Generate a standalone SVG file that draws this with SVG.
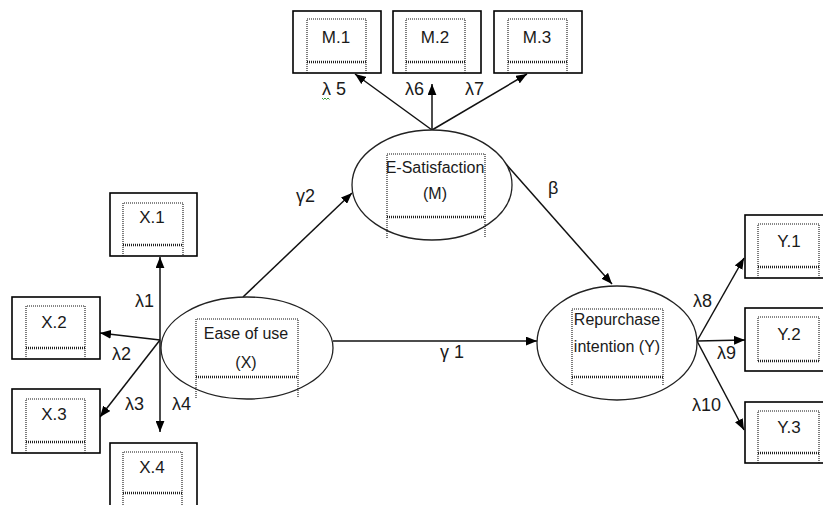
<svg xmlns="http://www.w3.org/2000/svg" width="823" height="505" viewBox="0 0 823 505">
<defs>
<marker id="arr" viewBox="0 0 10 8" refX="10" refY="4" markerWidth="11" markerHeight="9" markerUnits="userSpaceOnUse" orient="auto">
<path d="M0,0 L10,4 L0,8 z" fill="#000"/>
</marker>
<style>
.box{fill:#fff;stroke:#000;stroke-width:1.6}
.ell{fill:#fff;stroke:#222;stroke-width:1.3}
.dot{fill:none;stroke:#111;stroke-width:1.1;stroke-dasharray:1 1}
.wav{fill:none;stroke:#222;stroke-width:2.4;stroke-dasharray:1 1}
.bl{font-family:"Liberation Sans",Arial,sans-serif;font-size:17px;fill:#1a1a1a;text-anchor:middle}
.el{font-family:"Liberation Sans",Arial,sans-serif;font-size:16px;fill:#1a1a1a;text-anchor:middle}
.lb{font-family:"Liberation Sans",Arial,sans-serif;font-size:18px;fill:#1a1a1a}
.con{fill:none;stroke:#111;stroke-width:1.5;marker-end:url(#arr)}
</style>
</defs>
<rect width="823" height="505" fill="#fff"/>

<g id="connectors">
<line class="con" x1="432" y1="130" x2="355" y2="74"/>
<line class="con" x1="432" y1="130" x2="432" y2="84"/>
<line class="con" x1="432" y1="130" x2="527" y2="74"/>
<line class="con" x1="243" y1="297" x2="352" y2="193"/>
<line class="con" x1="506" y1="164" x2="612" y2="284"/>
<line class="con" x1="333" y1="341" x2="537" y2="341"/>
<line class="con" x1="160" y1="340" x2="160" y2="257"/>
<line class="con" x1="160" y1="340" x2="100" y2="333"/>
<line class="con" x1="160" y1="340" x2="100" y2="417"/>
<line class="con" x1="160" y1="340" x2="160" y2="432"/>
<line class="con" x1="697" y1="341" x2="744" y2="258"/>
<line class="con" x1="697" y1="341" x2="745" y2="340"/>
<line class="con" x1="697" y1="341" x2="744" y2="430"/>
</g>

<g id="labels">
<text class="lb" x="322" y="95">λ 5</text>
<path d="M322,98 l1.5,1.5 l1.5,-1.5 l1.5,1.5 l1.5,-1.5 l1.5,1.5" fill="none" stroke="#3a9a3a" stroke-width="1"/>
<text class="lb" x="405" y="95">λ6</text>
<text class="lb" x="465" y="95">λ7</text>
<text class="lb" x="296" y="202">γ2</text>
<text class="lb" x="548" y="194">β</text>
<text class="lb" x="135" y="307">λ1</text>
<text class="lb" x="112" y="360">λ2</text>
<text class="lb" x="125" y="410">λ3</text>
<text class="lb" x="172" y="410">λ4</text>
<text class="lb" x="440" y="358">γ 1</text>
<text class="lb" x="693" y="307">λ8</text>
<text class="lb" x="717" y="359">λ9</text>
<text class="lb" x="692" y="411">λ10</text>
</g>

<g id="M1">
<rect class="box" x="293" y="11" width="88" height="62"/>
<path class="dot" d="M307,73 V19 H366 V73"/>
<line class="wav" x1="307" y1="62" x2="366" y2="62"/>
<text class="bl" x="336" y="43">M.1</text>
</g>
<g id="M2">
<rect class="box" x="393" y="11" width="88" height="62"/>
<path class="dot" d="M406,73 V19 H465 V73"/>
<line class="wav" x1="406" y1="62" x2="465" y2="62"/>
<text class="bl" x="435" y="43">M.2</text>
</g>
<g id="M3">
<rect class="box" x="494" y="11" width="88" height="62"/>
<path class="dot" d="M508,73 V19 H567 V73"/>
<line class="wav" x1="508" y1="62" x2="567" y2="62"/>
<text class="bl" x="537" y="43">M.3</text>
</g>

<g id="X1">
<rect class="box" x="110" y="193" width="87" height="63"/>
<path class="dot" d="M123,256 V203 H183 V256"/>
<line class="wav" x1="123" y1="245" x2="183" y2="245"/>
<text class="bl" x="152" y="223">X.1</text>
</g>
<g id="X2">
<rect class="box" x="12" y="297" width="88" height="62"/>
<path class="dot" d="M26,359 V306 H85 V359"/>
<line class="wav" x1="26" y1="348" x2="85" y2="348"/>
<text class="bl" x="54" y="328">X.2</text>
</g>
<g id="X3">
<rect class="box" x="12" y="389" width="88" height="64"/>
<path class="dot" d="M26,453 V399 H85 V453"/>
<line class="wav" x1="26" y1="442" x2="85" y2="442"/>
<text class="bl" x="54" y="420">X.3</text>
</g>
<g id="X4">
<rect class="box" x="110" y="443" width="87" height="70"/>
<path class="dot" d="M123,505 V452 H182 V505"/>
<line class="wav" x1="123" y1="493" x2="182" y2="493"/>
<text class="bl" x="152" y="473">X.4</text>
</g>

<g id="Y1">
<rect class="box" x="745" y="215" width="90" height="63"/>
<path class="dot" d="M758,278 V224 H819 V278"/>
<line class="wav" x1="758" y1="267" x2="819" y2="267"/>
<text class="bl" x="789" y="247">Y.1</text>
</g>
<g id="Y2">
<rect class="box" x="745" y="308" width="90" height="63"/>
<path class="dot" d="M758,361 V317 H819 V361"/>
<line class="wav" x1="758" y1="361" x2="819" y2="361"/>
<text class="bl" x="789" y="340">Y.2</text>
</g>
<g id="Y3">
<rect class="box" x="745" y="402" width="90" height="61"/>
<path class="dot" d="M758,463 V411 H819 V463"/>
<line class="wav" x1="758" y1="453" x2="819" y2="453"/>
<text class="bl" x="789" y="433">Y.3</text>
</g>

<g id="M">
<ellipse class="ell" cx="432" cy="185" rx="80" ry="55"/>
<path class="dot" d="M387,238 V154 H485 V238"/>
<line class="wav" x1="387" y1="217" x2="485" y2="217"/>
<text class="el" x="435" y="173">E-Satisfaction</text>
<text class="el" x="435" y="199">(M)</text>
</g>
<g id="X">
<ellipse class="ell" cx="247" cy="348" rx="86" ry="51"/>
<path class="dot" d="M196,398 V319 H298 V398"/>
<line class="wav" x1="196" y1="377" x2="298" y2="377"/>
<text class="el" x="246" y="339">Ease of use</text>
<text class="el" x="246" y="368">(X)</text>
</g>
<g id="Y">
<ellipse class="ell" cx="617" cy="343" rx="80" ry="57"/>
<path class="dot" d="M572,385 V309 H663 V385"/>
<line class="wav" x1="572" y1="377" x2="663" y2="377"/>
<text class="el" x="617" y="325">Repurchase</text>
<text class="el" x="617" y="352">intention (Y)</text>
</g>
</svg>
